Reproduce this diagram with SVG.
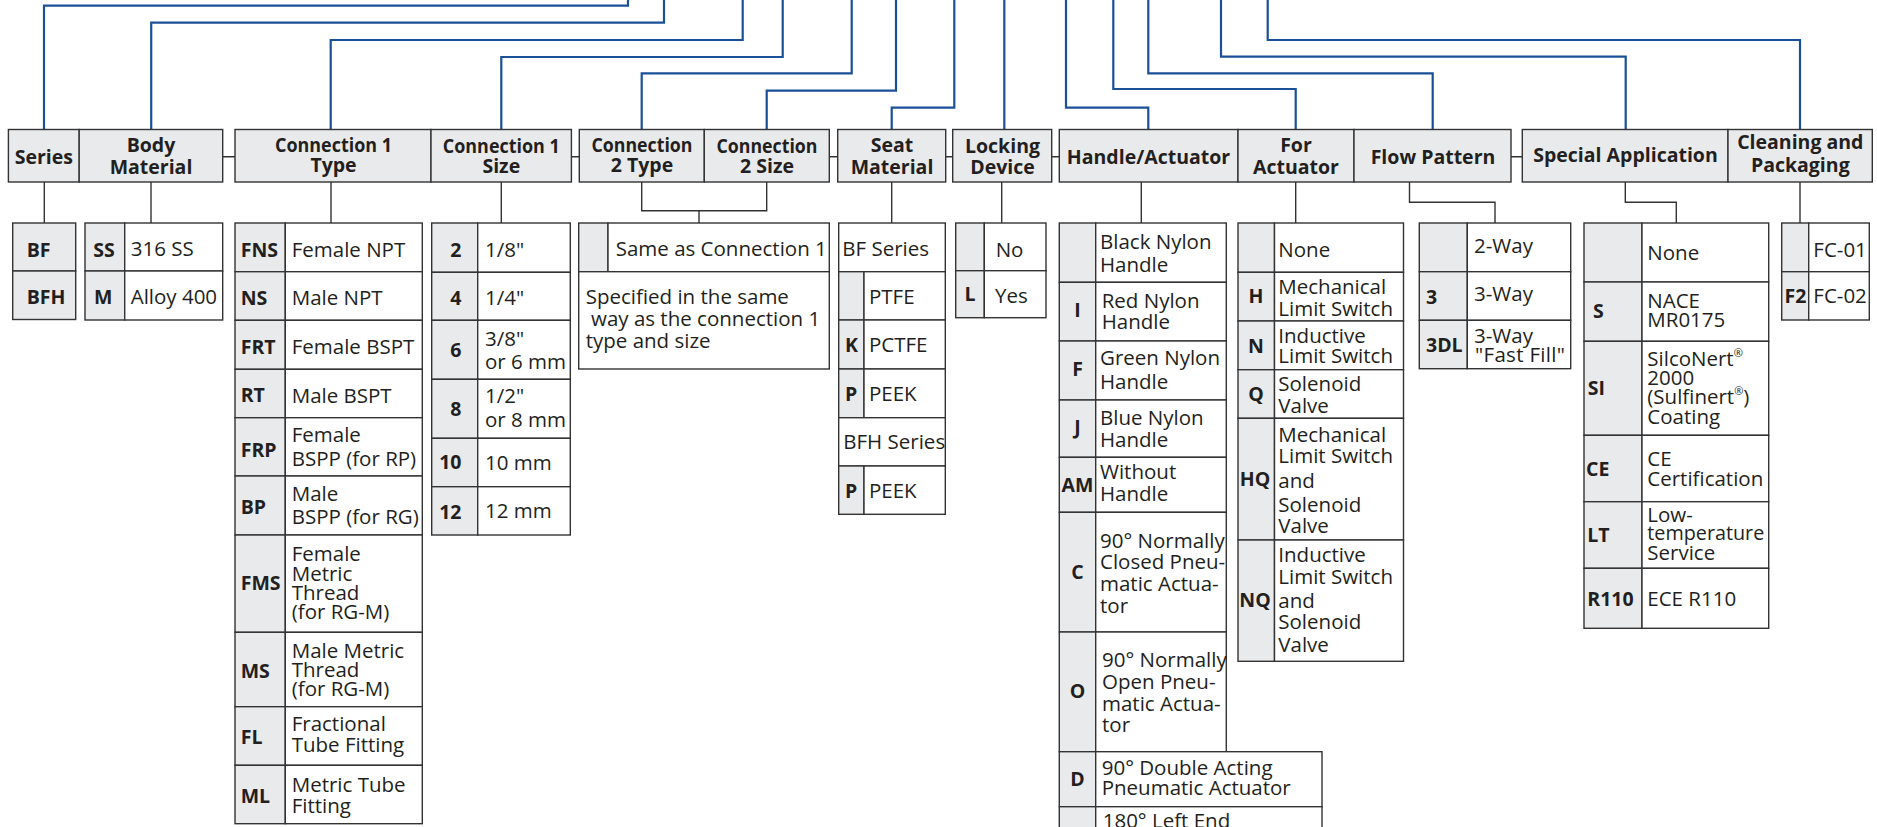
<svg xmlns="http://www.w3.org/2000/svg" width="1877" height="827" viewBox="0 0 1877 827">
<style>
.h{fill:#e9eaec;stroke:#333;stroke-width:1.4}
.g{fill:#e9eaec;stroke:#333;stroke-width:1.4}
.w{fill:#fff;stroke:#333;stroke-width:1.4}
.ht{font-family:"Open Sans","Liberation Sans",sans-serif;font-weight:bold;font-size:19.5px;fill:#231f20;text-anchor:middle}
.c{font-family:"Open Sans","Liberation Sans",sans-serif;font-weight:bold;font-size:19.5px;fill:#231f20}
.cm{font-family:"Open Sans","Liberation Sans",sans-serif;font-weight:bold;font-size:19.5px;fill:#231f20;text-anchor:middle}
.d{font-family:"Open Sans","Liberation Sans",sans-serif;font-size:20.5px;fill:#231f20}
.sup{font-size:11px}
.bl{fill:none;stroke:#1a5097;stroke-width:2.2}
.k{fill:none;stroke:#333;stroke-width:1.4}
</style>
<rect width="1877" height="827" fill="#fff"/>

<g id="connectors">
<g id="blue">
<path class="bl" d="M628,0V5.7H44V129.5"/>
<path class="bl" d="M664,0V22.7H151.2V129.5"/>
<path class="bl" d="M742.7,0V40H330.7V129.5"/>
<path class="bl" d="M782.7,0V57H501.3V129.5"/>
<path class="bl" d="M851.7,0V73.3H641.7V129.5"/>
<path class="bl" d="M896,0V90.7H766.7V129.5"/>
<path class="bl" d="M954.3,0V107.7H891.7V129.5"/>
<path class="bl" d="M1004.3,0V129.5"/>
<path class="bl" d="M1066,0V107.7H1148.3V129.5"/>
<path class="bl" d="M1113.3,0V89H1295.7V129.5"/>
<path class="bl" d="M1148.3,0V73.3H1432.7V129.5"/>
<path class="bl" d="M1221,0V56.7H1625.7V129.5"/>
<path class="bl" d="M1267.7,0V40H1800V129.5"/>
</g>
<g id="links">
<path class="k" d="M222.7,156.7H235M571.4,156.7H579.3M829.3,156.7H837.7M945.7,156.7H952.7M1051.7,156.7H1059.3M1511,156.7H1522.3"/>
<path class="k" d="M44.3,182V223M151,182V223M331,182V223M501.3,182V223M891.7,182V223M1001.7,182V223M1141.3,182V223M1295.7,182V223M1800,182V223"/>
<path class="k" d="M641.7,182V210.7H766.7V182M699,210.7V223"/>
<path class="k" d="M1409.5,182V202.3H1495V223"/>
<path class="k" d="M1625.3,182V202.3H1676.3V223"/>
</g>
</g>

<g id="headers">
<g id="h-series"><rect class="h" x="8.4" y="129.5" width="70.8" height="52.5"/><text class="ht" x="43.8" y="164">Series</text></g>
<g id="h-body"><rect class="h" x="79.2" y="129.5" width="143.5" height="52.5"/><text class="ht" x="151" y="151.7">Body</text><text class="ht" x="151" y="174.3">Material</text></g>
<g id="h-conn1type"><rect class="h" x="235" y="129.5" width="196" height="52.5"/><text class="ht" x="333.5" y="151.7" textLength="117" lengthAdjust="spacingAndGlyphs">Connection 1</text><text class="ht" x="333.5" y="171.5">Type</text></g>
<g id="h-conn1size"><rect class="h" x="431" y="129.5" width="140.4" height="52.5"/><text class="ht" x="501.3" y="152.7" textLength="117" lengthAdjust="spacingAndGlyphs">Connection 1</text><text class="ht" x="501.3" y="173.3">Size</text></g>
<g id="h-conn2type"><rect class="h" x="579.3" y="129.5" width="125" height="52.5"/><text class="ht" x="642" y="151.7" textLength="101" lengthAdjust="spacingAndGlyphs">Connection</text><text class="ht" x="642" y="171.5">2 Type</text></g>
<g id="h-conn2size"><rect class="h" x="704.3" y="129.5" width="125" height="52.5"/><text class="ht" x="767" y="153.3" textLength="101" lengthAdjust="spacingAndGlyphs">Connection</text><text class="ht" x="767" y="173.3">2 Size</text></g>
<g id="h-seat"><rect class="h" x="837.7" y="129.5" width="108" height="52.5"/><text class="ht" x="892" y="151.7">Seat</text><text class="ht" x="892" y="174.3">Material</text></g>
<g id="h-locking"><rect class="h" x="952.7" y="129.5" width="99" height="52.5"/><text class="ht" x="1002.5" y="152.7">Locking</text><text class="ht" x="1002.5" y="174.3">Device</text></g>
<g id="h-handle"><rect class="h" x="1059.3" y="129.5" width="178.7" height="52.5"/><text class="ht" x="1148.5" y="164">Handle/Actuator</text></g>
<g id="h-foract"><rect class="h" x="1238" y="129.5" width="116" height="52.5"/><text class="ht" x="1296" y="151.7">For</text><text class="ht" x="1296" y="174.3">Actuator</text></g>
<g id="h-flow"><rect class="h" x="1354" y="129.5" width="157" height="52.5"/><text class="ht" x="1433" y="164">Flow Pattern</text></g>
<g id="h-special"><rect class="h" x="1522.3" y="129.5" width="205.7" height="52.5"/><text class="ht" x="1625.5" y="162.3">Special Application</text></g>
<g id="h-cleaning"><rect class="h" x="1728" y="129.5" width="144.3" height="52.5"/><text class="ht" x="1800.3" y="149.3">Cleaning and</text><text class="ht" x="1800.3" y="171.7">Packaging</text></g>
</g>

<g id="opt-series">
<rect class="g" x="12.7" y="223" width="63" height="48"/>
<rect class="g" x="12.7" y="271" width="63" height="48.5"/>
<text class="c" x="26.7" y="256.7">BF</text>
<text class="c" x="26.7" y="304">BFH</text>
</g>

<g id="opt-body">
<rect class="g" x="85" y="223" width="39.7" height="48"/><rect class="w" x="124.7" y="223" width="98" height="48"/>
<rect class="g" x="85" y="271" width="39.7" height="49"/><rect class="w" x="124.7" y="271" width="98" height="49"/>
<text class="c" x="93.3" y="256.7">SS</text><text class="d" x="130.7" y="255.5">316 SS</text>
<text class="c" x="94" y="304">M</text><text class="d" x="130.7" y="304">Alloy 400</text>
</g>

<g id="opt-conn1type">
<rect class="g" x="235" y="223" width="50.3" height="48.7"/><rect class="w" x="285.3" y="223" width="137" height="48.7"/>
<rect class="g" x="235" y="271.7" width="50.3" height="48.6"/><rect class="w" x="285.3" y="271.7" width="137" height="48.6"/>
<rect class="g" x="235" y="320.3" width="50.3" height="49"/><rect class="w" x="285.3" y="320.3" width="137" height="49"/>
<rect class="g" x="235" y="369.3" width="50.3" height="48.4"/><rect class="w" x="285.3" y="369.3" width="137" height="48.4"/>
<rect class="g" x="235" y="417.7" width="50.3" height="58.3"/><rect class="w" x="285.3" y="417.7" width="137" height="58.3"/>
<rect class="g" x="235" y="476" width="50.3" height="59"/><rect class="w" x="285.3" y="476" width="137" height="59"/>
<rect class="g" x="235" y="535" width="50.3" height="97.3"/><rect class="w" x="285.3" y="535" width="137" height="97.3"/>
<rect class="g" x="235" y="632.3" width="50.3" height="74.4"/><rect class="w" x="285.3" y="632.3" width="137" height="74.4"/>
<rect class="g" x="235" y="706.7" width="50.3" height="58.6"/><rect class="w" x="285.3" y="706.7" width="137" height="58.6"/>
<rect class="g" x="235" y="765.3" width="50.3" height="58.4"/><rect class="w" x="285.3" y="765.3" width="137" height="58.4"/>
<text class="c" x="240.7" y="256.7">FNS</text><text class="d" x="291.7" y="256.7">Female NPT</text>
<text class="c" x="240.7" y="305">NS</text><text class="d" x="291.7" y="305">Male NPT</text>
<text class="c" x="240.7" y="354">FRT</text><text class="d" x="291.7" y="354">Female BSPT</text>
<text class="c" x="240.7" y="401.7">RT</text><text class="d" x="291.7" y="402.7">Male BSPT</text>
<text class="c" x="240.7" y="456.7">FRP</text><text class="d" x="291.7" y="442">Female</text><text class="d" x="291.7" y="466">BSPP (for RP)</text>
<text class="c" x="240.7" y="513.5">BP</text><text class="d" x="291.7" y="500.7">Male</text><text class="d" x="291.7" y="524">BSPP (for RG)</text>
<text class="c" x="240.7" y="590">FMS</text><text class="d" x="291.7" y="561">Female</text><text class="d" x="291.7" y="580.5">Metric</text><text class="d" x="291.7" y="599.5">Thread</text><text class="d" x="291.7" y="618.5">(for RG-M)</text>
<text class="c" x="240.7" y="678.3">MS</text><text class="d" x="291.7" y="657.7">Male Metric</text><text class="d" x="291.7" y="676.5">Thread</text><text class="d" x="291.7" y="695.7">(for RG-M)</text>
<text class="c" x="240.7" y="744.3">FL</text><text class="d" x="291.7" y="730.7">Fractional</text><text class="d" x="291.7" y="751.7">Tube Fitting</text>
<text class="c" x="240.7" y="803.3">ML</text><text class="d" x="291.7" y="792.3">Metric Tube</text><text class="d" x="291.7" y="813.3">Fitting</text>
</g>

<g id="opt-conn1size">
<rect class="g" x="431.7" y="223" width="46" height="49.3"/><rect class="w" x="477.7" y="223" width="92.6" height="49.3"/>
<rect class="g" x="431.7" y="272.3" width="46" height="48"/><rect class="w" x="477.7" y="272.3" width="92.6" height="48"/>
<rect class="g" x="431.7" y="320.3" width="46" height="59"/><rect class="w" x="477.7" y="320.3" width="92.6" height="59"/>
<rect class="g" x="431.7" y="379.3" width="46" height="59"/><rect class="w" x="477.7" y="379.3" width="92.6" height="59"/>
<rect class="g" x="431.7" y="438.3" width="46" height="48.4"/><rect class="w" x="477.7" y="438.3" width="92.6" height="48.4"/>
<rect class="g" x="431.7" y="486.7" width="46" height="48.3"/><rect class="w" x="477.7" y="486.7" width="92.6" height="48.3"/>
<g class="c" text-anchor="end">
<text x="461.5" y="256.5">2</text><text x="461.5" y="305">4</text><text x="461.5" y="356.7">6</text><text x="461.5" y="416">8</text><text x="461.5" y="469.3">10</text><text x="461.5" y="519">12</text>
</g>
<text class="d" x="485" y="256.7">1/8"</text>
<text class="d" x="485" y="305">1/4"</text>
<text class="d" x="485" y="345.7">3/8"</text><text class="d" x="485" y="369">or 6 mm</text>
<text class="d" x="485" y="403.3">1/2"</text><text class="d" x="485" y="427.3">or 8 mm</text>
<text class="d" x="485" y="470">10 mm</text>
<text class="d" x="485" y="518.3">12 mm</text>
</g>

<g id="opt-conn2">
<rect class="g" x="578.7" y="223" width="29.3" height="48.7"/><rect class="w" x="608" y="223" width="221.3" height="48.7"/>
<rect class="w" x="578.7" y="271.7" width="250.6" height="97.3"/>
<text class="d" x="615.7" y="256">Same as Connection 1</text>
<text class="d" x="585.7" y="304">Specified in the same</text>
<text class="d" x="585.7" y="326" xml:space="preserve"> way as the connection 1</text>
<text class="d" x="585.7" y="347.7">type and size</text>
</g>

<g id="opt-seat">
<rect class="w" x="838.7" y="223" width="106.6" height="48.7"/>
<rect class="g" x="838.7" y="271.7" width="25.3" height="48.3"/><rect class="w" x="864" y="271.7" width="81.3" height="48.3"/>
<rect class="g" x="838.7" y="320" width="25.3" height="49"/><rect class="w" x="864" y="320" width="81.3" height="49"/>
<rect class="g" x="838.7" y="369" width="25.3" height="48.7"/><rect class="w" x="864" y="369" width="81.3" height="48.7"/>
<rect class="w" x="838.7" y="417.7" width="106.6" height="48.3"/>
<rect class="g" x="838.7" y="466" width="25.3" height="48.3"/><rect class="w" x="864" y="466" width="81.3" height="48.3"/>
<text class="d" x="842.3" y="256">BF Series</text>
<text class="d" x="869" y="304">PTFE</text>
<text class="c" x="845" y="352.3">K</text><text class="d" x="869" y="352.3">PCTFE</text>
<text class="c" x="845" y="401">P</text><text class="d" x="869" y="401">PEEK</text>
<text class="d" x="843.3" y="449.3">BFH Series</text>
<text class="c" x="845" y="498.3">P</text><text class="d" x="869" y="498.3">PEEK</text>
</g>

<g id="opt-locking">
<rect class="g" x="955.7" y="223" width="28.6" height="47.7"/><rect class="w" x="984.3" y="223" width="61.7" height="47.7"/>
<rect class="g" x="955.7" y="270.7" width="28.6" height="47"/><rect class="w" x="984.3" y="270.7" width="61.7" height="47"/>
<text class="d" x="995.7" y="256.7">No</text>
<text class="cm" x="970" y="301">L</text><text class="d" x="995" y="303.3">Yes</text>
</g>

<g id="opt-handle">
<rect class="g" x="1059.3" y="223" width="36.4" height="59.3"/><rect class="w" x="1095.7" y="223" width="130.6" height="59.3"/>
<rect class="g" x="1059.3" y="282.3" width="36.4" height="58.7"/><rect class="w" x="1095.7" y="282.3" width="130.6" height="58.7"/>
<rect class="g" x="1059.3" y="341" width="36.4" height="59"/><rect class="w" x="1095.7" y="341" width="130.6" height="59"/>
<rect class="g" x="1059.3" y="400" width="36.4" height="57.3"/><rect class="w" x="1095.7" y="400" width="130.6" height="57.3"/>
<rect class="g" x="1059.3" y="457.3" width="36.4" height="55"/><rect class="w" x="1095.7" y="457.3" width="130.6" height="55"/>
<rect class="g" x="1059.3" y="512.3" width="36.4" height="119.7"/><rect class="w" x="1095.7" y="512.3" width="130.6" height="119.7"/>
<rect class="g" x="1059.3" y="632" width="36.4" height="119.7"/><rect class="w" x="1095.7" y="632" width="130.6" height="119.7"/>
<rect class="g" x="1059.3" y="751.7" width="36.4" height="55"/><rect class="w" x="1095.7" y="751.7" width="226.3" height="55"/>
<rect class="g" x="1059.3" y="806.7" width="36.4" height="60"/><rect class="w" x="1095.7" y="806.7" width="226.3" height="60"/>
<text class="d" x="1100" y="249">Black Nylon</text><text class="d" x="1100" y="271.7">Handle</text>
<text class="cm" x="1077.5" y="317.3">I</text><text class="d" x="1101.7" y="308.3">Red Nylon</text><text class="d" x="1101.7" y="329">Handle</text>
<text class="cm" x="1077.5" y="376">F</text><text class="d" x="1100" y="365">Green Nylon</text><text class="d" x="1100" y="389">Handle</text>
<text class="cm" x="1077.5" y="434">J</text><text class="d" x="1100" y="425">Blue Nylon</text><text class="d" x="1100" y="447.3">Handle</text>
<text class="cm" x="1077.5" y="491.7">AM</text><text class="d" x="1100" y="479">Without</text><text class="d" x="1100" y="500.7">Handle</text>
<text class="cm" x="1077.5" y="579.3">C</text><text class="d" x="1100" y="547.7">90° Normally</text><text class="d" x="1100" y="569.3">Closed Pneu-</text><text class="d" x="1100" y="591">matic Actua-</text><text class="d" x="1100" y="612.7">tor</text>
<text class="cm" x="1077.5" y="698.3">O</text><text class="d" x="1102" y="667.3">90° Normally</text><text class="d" x="1102" y="689">Open Pneu-</text><text class="d" x="1102" y="710.7">matic Actua-</text><text class="d" x="1102" y="732.3">tor</text>
<text class="cm" x="1077.5" y="786">D</text><text class="d" x="1101.7" y="775">90° Double Acting</text><text class="d" x="1101.7" y="795">Pneumatic Actuator</text>
<text class="d" x="1102.7" y="828">180° Left End</text>
</g>

<g id="opt-foractuator">
<rect class="g" x="1238" y="223" width="36.5" height="49.3"/><rect class="w" x="1274.5" y="223" width="129" height="49.3"/>
<rect class="g" x="1238" y="272.3" width="36.5" height="48.7"/><rect class="w" x="1274.5" y="272.3" width="129" height="48.7"/>
<rect class="g" x="1238" y="321" width="36.5" height="48.7"/><rect class="w" x="1274.5" y="321" width="129" height="48.7"/>
<rect class="g" x="1238" y="369.7" width="36.5" height="48.6"/><rect class="w" x="1274.5" y="369.7" width="129" height="48.6"/>
<rect class="g" x="1238" y="418.3" width="36.5" height="121.7"/><rect class="w" x="1274.5" y="418.3" width="129" height="121.7"/>
<rect class="g" x="1238" y="540" width="36.5" height="121.3"/><rect class="w" x="1274.5" y="540" width="129" height="121.3"/>
<text class="d" x="1278.3" y="256.7">None</text>
<text class="cm" x="1256" y="303.3">H</text><text class="d" x="1278.3" y="294.3">Mechanical</text><text class="d" x="1278.3" y="316">Limit Switch</text>
<text class="cm" x="1256" y="352.7">N</text><text class="d" x="1278.3" y="342.7">Inductive</text><text class="d" x="1278.3" y="363.3">Limit Switch</text>
<text class="cm" x="1256" y="401">Q</text><text class="d" x="1278.3" y="391">Solenoid</text><text class="d" x="1278.3" y="413.3">Valve</text>
<text class="cm" x="1255" y="486">HQ</text><text class="d" x="1278.3" y="442.3">Mechanical</text><text class="d" x="1278.3" y="463.3">Limit Switch</text><text class="d" x="1278.3" y="488.3">and</text><text class="d" x="1278.3" y="511.7">Solenoid</text><text class="d" x="1278.3" y="533.3">Valve</text>
<text class="cm" x="1255" y="606.7">NQ</text><text class="d" x="1278.3" y="562.3">Inductive</text><text class="d" x="1278.3" y="584.3">Limit Switch</text><text class="d" x="1278.3" y="607.7">and</text><text class="d" x="1278.3" y="629.3">Solenoid</text><text class="d" x="1278.3" y="651.7">Valve</text>
</g>

<g id="opt-flow">
<rect class="g" x="1419.3" y="223" width="48" height="48.7"/><rect class="w" x="1467.3" y="223" width="103.4" height="48.7"/>
<rect class="g" x="1419.3" y="271.7" width="48" height="48.6"/><rect class="w" x="1467.3" y="271.7" width="103.4" height="48.6"/>
<rect class="g" x="1419.3" y="320.3" width="48" height="48.4"/><rect class="w" x="1467.3" y="320.3" width="103.4" height="48.4"/>
<text class="d" x="1474" y="252.7">2-Way</text>
<text class="c" x="1426" y="304">3</text><text class="d" x="1474" y="300.7">3-Way</text>
<text class="c" x="1426" y="351.7">3DL</text><text class="d" x="1474" y="342.7">3-Way</text><text class="d" x="1475" y="362.3" textLength="90" lengthAdjust="spacing">"Fast Fill"</text>
</g>

<g id="opt-special">
<rect class="g" x="1584" y="223" width="58" height="59"/><rect class="w" x="1642" y="223" width="126.7" height="59"/>
<rect class="g" x="1584" y="282" width="58" height="59.3"/><rect class="w" x="1642" y="282" width="126.7" height="59.3"/>
<rect class="g" x="1584" y="341.3" width="58" height="94"/><rect class="w" x="1642" y="341.3" width="126.7" height="94"/>
<rect class="g" x="1584" y="435.3" width="58" height="66.4"/><rect class="w" x="1642" y="435.3" width="126.7" height="66.4"/>
<rect class="g" x="1584" y="501.7" width="58" height="66.6"/><rect class="w" x="1642" y="501.7" width="126.7" height="66.6"/>
<rect class="g" x="1584" y="568.3" width="58" height="60"/><rect class="w" x="1642" y="568.3" width="126.7" height="60"/>
<text class="d" x="1647.3" y="260">None</text>
<text class="c" x="1593" y="318.3">S</text><text class="d" x="1647.3" y="308.3">NACE</text><text class="d" x="1647.3" y="326.7">MR0175</text>
<text class="c" x="1587.7" y="395">SI</text>
<text class="d" x="1647.3" y="365.7">SilcoNert<tspan class="sup" dy="-9">®</tspan></text>
<text class="d" x="1647.3" y="385">2000</text>
<text class="d" x="1647.3" y="404.3">(Sulfinert<tspan class="sup" dy="-9">®</tspan><tspan dy="9">)</tspan></text>
<text class="d" x="1647.3" y="424">Coating</text>
<text class="c" x="1586" y="475.7">CE</text><text class="d" x="1647.3" y="465.7">CE</text><text class="d" x="1647.3" y="485.7">Certification</text>
<text class="c" x="1587.3" y="542.3">LT</text><text class="d" x="1647.3" y="521.7">Low-</text><text class="d" x="1647.3" y="540" textLength="117" lengthAdjust="spacingAndGlyphs">temperature</text><text class="d" x="1647.3" y="560">Service</text>
<text class="c" x="1587.3" y="605.7">R110</text><text class="d" x="1647.3" y="605.7">ECE R110</text>
</g>

<g id="opt-cleaning">
<rect class="g" x="1781.7" y="223" width="27" height="48.7"/><rect class="w" x="1808.7" y="223" width="60.6" height="48.7"/>
<rect class="g" x="1781.7" y="271.7" width="27" height="48.3"/><rect class="w" x="1808.7" y="271.7" width="60.6" height="48.3"/>
<text class="d" x="1813.3" y="256.7">FC-01</text>
<text class="cm" x="1795.5" y="302.7">F2</text><text class="d" x="1813.3" y="302.7">FC-02</text>
</g>
</svg>
